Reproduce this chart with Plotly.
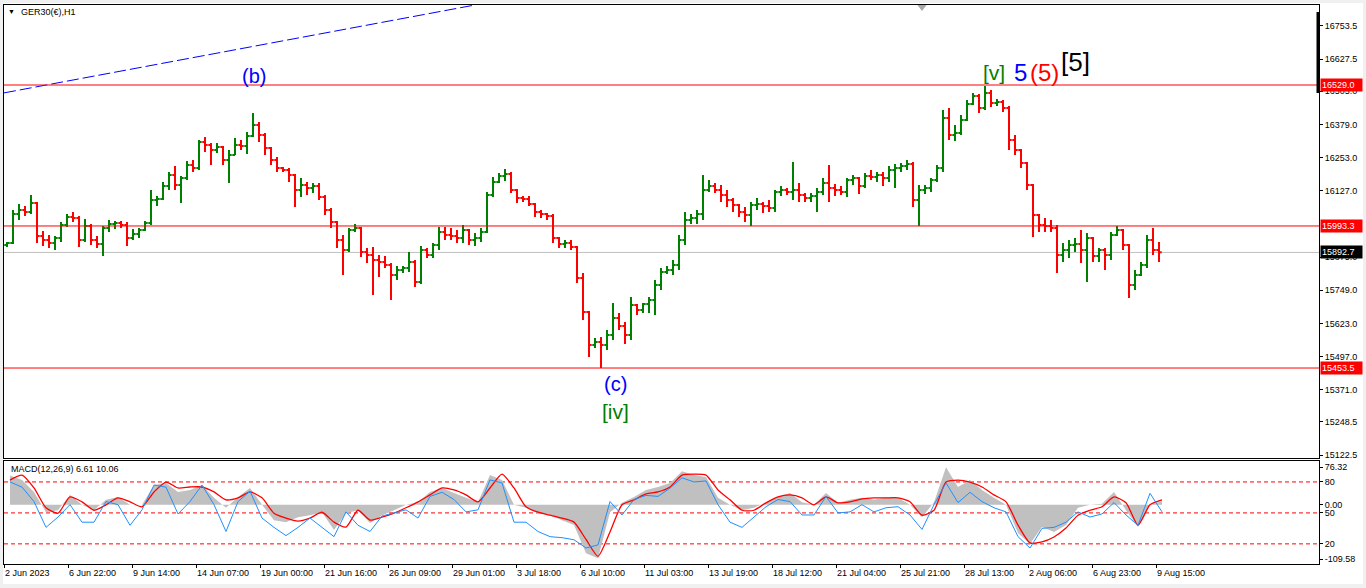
#!/usr/bin/env python3
"""GER30 H1 chart with Elliott wave labels and a MACD window, MT4 style."""

import plotly.graph_objects as go

SYMBOL = "GER30(€),H1"
MACD_TITLE = "MACD(12,26,9) 6.61 10.06"

# Price bars, grouped 6 hours per bar, 2 Jun - 9 Aug 2023.
first_open = 15921
bar_high = [
    15932, 16054, 16077, 16069, 16111, 16084, 15974, 15959, 15955, 16008,
    16039, 16046, 16031, 16020, 16001, 15955, 15993, 16016, 16012, 16012,
    16008, 15982, 15986, 16012, 16130, 16107, 16160, 16198, 16221, 16183,
    16240, 16244, 16320, 16331, 16309, 16309, 16297, 16282, 16328, 16320,
    16350, 16423, 16388, 16347, 16293, 16255, 16217, 16214, 16191, 16176,
    16160, 16157, 16157, 16111, 16062, 16012, 15959, 15986, 16001, 15989,
    15910, 15913, 15883, 15879, 15853, 15841, 15841, 15894, 15864, 15917,
    15910, 15929, 15989, 15989, 15986, 15978, 15997, 15982, 15967, 15986,
    16122, 16179, 16195, 16210, 16198, 16134, 16107, 16107, 16081, 16054,
    16043, 16039, 15951, 15940, 15940, 15917, 15815, 15670, 15568, 15571,
    15598, 15701, 15663, 15628, 15723, 15697, 15701, 15723, 15788, 15834,
    15841, 15864, 15959, 16046, 16039, 16054, 16187, 16168, 16157, 16149,
    16130, 16100, 16077, 16065, 16084, 16100, 16084, 16092, 16130, 16145,
    16138, 16236, 16157, 16119, 16119, 16138, 16176, 16225, 16153, 16145,
    16176, 16187, 16179, 16195, 16206, 16198, 16198, 16221, 16229, 16233,
    16244, 16236, 16149, 16149, 16176, 16225, 16434, 16442, 16377, 16415,
    16472, 16499, 16495, 16525, 16510, 16476, 16472, 16449, 16339, 16286,
    16236, 16153, 16039, 16024, 16016, 15997, 15929, 15940, 15948, 15978,
    15967, 15951, 15910, 15910, 15970, 15993, 15982, 15925, 15826, 15856,
    15959, 15986, 15932,
]
bar_low = [
    15913, 15925, 16016, 16031, 16039, 15929, 15917, 15910, 15902, 15932,
    15989, 16008, 15913, 15932, 15921, 15910, 15879, 15970, 15982, 15986,
    15917, 15940, 15948, 15974, 15997, 16069, 16092, 16130, 16130, 16081,
    16168, 16198, 16206, 16274, 16225, 16271, 16225, 16157, 16263, 16282,
    16267, 16331, 16312, 16263, 16225, 16198, 16198, 16160, 16065, 16103,
    16111, 16119, 16092, 16035, 15986, 15910, 15807, 15894, 15970, 15875,
    15853, 15731, 15799, 15834, 15712, 15788, 15815, 15818, 15761, 15773,
    15872, 15872, 15902, 15940, 15940, 15929, 15929, 15921, 15917, 15932,
    15967, 16103, 16157, 16164, 16119, 16081, 16084, 16069, 16027, 16024,
    16016, 15929, 15910, 15910, 15902, 15777, 15636, 15495, 15530, 15454,
    15522, 15560, 15598, 15545, 15560, 15655, 15663, 15663, 15655, 15750,
    15811, 15807, 15826, 15921, 16001, 16001, 16016, 16122, 16119, 16084,
    16065, 16046, 16027, 16008, 15993, 16054, 16043, 16046, 16046, 16107,
    16111, 16092, 16084, 16084, 16084, 16046, 16111, 16084, 16107, 16111,
    16103, 16149, 16115, 16138, 16168, 16160, 16145, 16160, 16138, 16198,
    16206, 16065, 15993, 16115, 16122, 16160, 16198, 16320, 16316, 16339,
    16392, 16453, 16423, 16434, 16445, 16449, 16426, 16282, 16263, 16214,
    16130, 15951, 15970, 15970, 15970, 15815, 15856, 15872, 15894, 15853,
    15780, 15856, 15856, 15826, 15864, 15955, 15902, 15720, 15750, 15803,
    15834, 15883, 15856,
]
bar_close = [
    15929, 16039, 16054, 16046, 16081, 15955, 15940, 15929, 15948, 15997,
    16027, 16024, 15940, 15993, 15940, 15925, 15986, 16001, 16005, 15997,
    15948, 15963, 15978, 16005, 16092, 16096, 16145, 16187, 16149, 16176,
    16225, 16214, 16312, 16301, 16282, 16293, 16244, 16263, 16301, 16297,
    16335, 16377, 16339, 16290, 16244, 16214, 16206, 16187, 16130, 16149,
    16138, 16145, 16103, 16054, 16008, 15940, 15902, 15978, 15986, 15894,
    15883, 15864, 15856, 15845, 15807, 15826, 15834, 15856, 15780, 15902,
    15883, 15921, 15970, 15959, 15955, 15948, 15978, 15940, 15948, 15970,
    16111, 16160, 16183, 16191, 16130, 16100, 16096, 16077, 16046, 16039,
    16031, 15948, 15925, 15929, 15913, 15796, 15666, 15541, 15552, 15541,
    15579, 15644, 15613, 15579, 15693, 15674, 15697, 15712, 15769, 15818,
    15826, 15845, 15940, 16016, 16024, 16039, 16130, 16145, 16130, 16111,
    16092, 16073, 16046, 16035, 16073, 16077, 16069, 16062, 16122, 16130,
    16122, 16130, 16111, 16100, 16107, 16122, 16157, 16138, 16130, 16122,
    16168, 16176, 16145, 16183, 16179, 16187, 16176, 16206, 16214, 16221,
    16229, 16092, 16130, 16138, 16168, 16214, 16404, 16339, 16347, 16396,
    16457, 16487, 16442, 16499, 16461, 16464, 16442, 16320, 16282, 16233,
    16149, 16035, 15997, 15993, 15986, 15883, 15902, 15921, 15925, 15902,
    15948, 15879, 15902, 15883, 15959, 15978, 15921, 15769, 15807, 15845,
    15940, 15902, 15893,
]

# MACD window, one reading every 12 hours.
macd_main = [
    59, 50, 26, -15, -11, 20, 0, -11, 10, 16, 0, 0, 40, 44, 26, 30, 40, 14,
    -6, 16, 34, 0, -31, -35, -25, -21, -15, -51, -17, -11, -37, -21, -11, 0,
    5, 26, 34, 24, 14, 5, 60, 50, 0, -6, -17, -21, -31, -41, -98, -108, -15,
    4, 16, 30, 36, 44, 68, 60, 56, 14, 0, -11, -6, 5, 16, 24, 5, 0, 24, 4,
    10, 14, 10, 15, 14, 0, -25, 5, 76, 36, 50, 30, 14, 0, -57, -79, -45,
    -55, -41, -6, 0, 2, 26, -11, -45, 0, 7,
]
macd_signal = [
    50, 60, 34, -6, -17, 16, 6, -11, 0, 14, 6, -4, 26, 46, 34, 36, 36, 26,
    10, 14, 26, 14, -17, -27, -33, -27, -15, -35, -45, -11, -31, -25, -17,
    -6, 6, 20, 34, 30, 20, 6, 34, 62, 34, -4, -15, -21, -27, -35, -70, -104,
    -55, 0, 10, 22, 26, 36, 60, 62, 60, 30, 10, -11, -11, 4, 16, 20, 14, 0,
    16, 4, 6, 12, 14, 14, 14, 6, -21, -11, 46, 50, 46, 36, 20, 6, -41, -77,
    -75, -65, -47, -21, -11, -4, 16, 4, -41, 0, 10,
]
# blue oscillator drawn on the 0-100 scale of the same window
osc_line = [
    80, 75, 61, 36, 46, 58, 41, 41, 61, 58, 38, 53, 77, 75, 49, 61, 77, 58,
    32, 61, 71, 45, 36, 28, 36, 45, 36, 27, 51, 38, 32, 47, 50, 53, 45, 66,
    70, 63, 51, 53, 82, 79, 41, 41, 32, 27, 26, 24, 16, 19, 61, 48, 63, 67,
    66, 74, 84, 80, 81, 58, 41, 36, 46, 56, 63, 61, 48, 48, 66, 50, 51, 58,
    51, 55, 56, 48, 34, 58, 79, 60, 70, 61, 55, 51, 27, 16, 35, 36, 41, 51,
    46, 49, 60, 48, 38, 69, 51,
]
osc_levels = [80, 50, 20]

# Trendline anchors (bar hour, price) and horizontal levels.
trend_hours = [0, 471]
trend_price = [16499, 16833]
red_levels = [16529.0, 15993.3, 15453.5]
last_price = 15892.7

# 16001.0 sits fully under the 15993.3 tag, so it is left out
price_ticks = [16753.5, 16627.5, 16505.0, 16379.0, 16253.0, 16127.0,
               15875.0, 15749.0, 15623.0, 15497.0, 15371.0, 15248.5, 15122.5]
macd_ticks = [76.32, 0.0, -109.58]
time_labels = [
    "2 Jun 2023", "6 Jun 22:00", "9 Jun 14:00", "14 Jun 07:00",
    "19 Jun 00:00", "21 Jun 16:00", "26 Jun 09:00", "29 Jun 01:00",
    "3 Jul 18:00", "6 Jul 10:00", "11 Jul 03:00", "13 Jul 19:00",
    "18 Jul 12:00", "21 Jul 04:00", "25 Jul 21:00", "28 Jul 13:00",
    "2 Aug 06:00", "6 Aug 23:00", "9 Aug 15:00",
]

FONT = "Liberation Sans"
W, H = 1366, 588
ML, MR, MT, MB = 4, 47, 5, 24
PLOT_W = W - ML - MR   # 1315 px, one px per H1 bar
PLOT_H = H - MT - MB


def px_x(p):
    """Screen x pixel -> paper x."""
    return (p - ML) / PLOT_W


def px_y(q):
    """Screen y pixel -> paper y."""
    return (H - MB - q) / PLOT_H


bar_x = [6 * i + 3 for i in range(len(bar_close))]
bar_open = [first_open] + bar_close[:-1]
macd_x = [12 * i + 6 for i in range(len(macd_main))]

fig = go.Figure()

# MT4 style bar chart: high-low stroke with open/close ticks
fig.add_trace(go.Ohlc(
    x=bar_x, open=bar_open, high=bar_high, low=bar_low, close=bar_close,
    increasing=dict(line=dict(color="#008000", width=2)),
    decreasing=dict(line=dict(color="#ff0000", width=2)),
    tickwidth=0.45, xaxis="x", yaxis="y", hoverinfo="skip",
))
fig.add_trace(go.Scatter(
    x=trend_hours, y=trend_price, mode="lines",
    line=dict(color="#0000ff", width=1, dash="12px,4px"),
    xaxis="x", yaxis="y",
))
# MACD histogram drawn as a solid grey area, as MT4 does at this zoom
fig.add_trace(go.Scatter(
    x=macd_x, y=macd_main, mode="none", fill="tozeroy",
    fillcolor="#c0c0c0", xaxis="x2", yaxis="y2",
))
fig.add_trace(go.Scatter(
    x=macd_x, y=macd_signal, mode="lines",
    line=dict(color="#ff0000", width=1.3, shape="spline", smoothing=0.6),
    xaxis="x2", yaxis="y2",
))
fig.add_trace(go.Scatter(
    x=macd_x, y=osc_line, mode="lines",
    line=dict(color="#1e90ff", width=1), xaxis="x2", yaxis="y3",
))
# chart-shift marker at the top border
fig.add_trace(go.Scatter(
    x=[918], y=[16825], mode="markers", cliponaxis=False,
    marker=dict(symbol="triangle-down", size=8, color="#a8a8a8"),
    xaxis="x", yaxis="y",
))

shapes = []
for lv in red_levels:
    shapes.append(dict(type="line", xref="paper", yref="y", x0=0, x1=1,
                       y0=lv, y1=lv, line=dict(color="#ff0000", width=1)))
shapes.append(dict(type="line", xref="paper", yref="y", x0=0, x1=1,
                   y0=last_price, y1=last_price, layer="below",
                   line=dict(color="#c0c0c0", width=1)))
for lv in osc_levels:
    shapes.append(dict(type="line", xref="paper", yref="y3", x0=0, x1=1,
                       y0=lv, y1=lv, layer="below",
                       line=dict(color="#ff0000", width=1, dash="4px,3px")))
# dark bar on the price scale
shapes.append(dict(type="rect", xref="paper", yref="paper",
                   x0=px_x(1316.5), x1=px_x(1320), y0=px_y(93), y1=px_y(12),
                   fillcolor="black", line=dict(width=0)))
# grey window frame
frame = "#f0f0f0"
for x0, x1, y0, y1 in [(0, 3, 0, H), (1363, W, 0, H), (0, W, 0, 3),
                       (0, W, 584, H)]:
    shapes.append(dict(type="rect", xref="paper", yref="paper",
                       x0=px_x(x0), x1=px_x(x1), y0=px_y(y1), y1=px_y(y0),
                       fillcolor=frame, line=dict(width=0)))

annotations = [
    dict(text="▼", x=px_x(6), y=px_y(12), xanchor="left", yanchor="middle",
         font=dict(size=7, color="black")),
    dict(text=SYMBOL, x=px_x(19), y=px_y(12), xanchor="left",
         yanchor="middle", font=dict(size=9, color="black")),
    dict(text=MACD_TITLE, x=px_x(9), y=px_y(469), xanchor="left",
         yanchor="middle", font=dict(size=9, color="black")),
]
for a in annotations:
    a.update(xref="paper", yref="paper", showarrow=False)

# Elliott wave counts
waves = [
    ("(b)", 250, 16563, "#0000ff", 20),
    ("(c)", 611, 15393, "#0000ff", 20),
    ("[iv]", 611, 15287, "#008000", 21),
    ("[v]", 990, 16578, "#008000", 21),
    ("5", 1016, 16578, "#0000ff", 24),
    ("(5)", 1040, 16578, "#ff0000", 24),
    ("[5]", 1071, 16616, "#000000", 26),
]
for text, hx, py, col, size in waves:
    annotations.append(dict(text=text, x=hx, y=py, xref="x", yref="y",
                            showarrow=False, xanchor="center",
                            yanchor="middle",
                            font=dict(size=size, color=col, family=FONT)))

# price tags on the right scale
for lv, bg in [(16529.0, "#ff0000"), (15993.3, "#ff0000"),
               (15453.5, "#ff0000"), (last_price, "#000000")]:
    annotations.append(dict(text=f"{lv:.1f}", x=1, y=lv, xref="paper",
                            yref="y", xanchor="left", yanchor="middle",
                            xshift=1, showarrow=False, bgcolor=bg,
                            borderpad=1, width=39, align="left",
                            font=dict(size=9, color="white", family=FONT)))

axis_common = dict(showgrid=False, zeroline=False, showline=True,
                   linecolor="black", linewidth=1, mirror=True,
                   tickcolor="black", automargin=False)

fig.update_layout(
    width=W, height=H, autosize=False,
    margin=dict(l=ML, r=MR, t=MT, b=MB, pad=0),
    paper_bgcolor="white", plot_bgcolor="white",
    font=dict(family=FONT, size=9, color="black"),
    showlegend=False,
    shapes=shapes, annotations=annotations,
    xaxis=dict(domain=[0, 1], range=[0, PLOT_W], anchor="y",
               showticklabels=False, ticks="",
               rangeslider=dict(visible=False), **axis_common),
    xaxis2=dict(domain=[0, 1], range=[0, PLOT_W], anchor="y2",
                matches="x",
                tickmode="array", tickvals=[64 * i for i in range(len(time_labels))],
                ticktext=time_labels, ticks="outside", ticklen=3,
                ticklabelposition="outside right", **axis_common),
    yaxis=dict(domain=[px_y(458), 1], range=[15111.6, 16833], anchor="x",
               side="right", tickmode="array", tickvals=price_ticks,
               ticktext=[f"{v:.1f}" for v in price_ticks],
               ticks="outside", ticklen=3, **axis_common),
    yaxis2=dict(domain=[0, px_y(461)], range=[-119.6, 88.5], anchor="x2",
                side="right", tickmode="array", tickvals=macd_ticks,
                ticktext=[f"{v:.2f}" for v in macd_ticks],
                ticks="outside", ticklen=3, **axis_common),
    yaxis3=dict(overlaying="y2", range=[0.5, 100.3], anchor="x2",
                side="right", tickmode="array", tickvals=osc_levels,
                ticks="outside", ticklen=3, showgrid=False, zeroline=False,
                showline=False, tickcolor="black", automargin=False),
)

fig.write_html("out.html", config={"displayModeBar": False},
               post_script="document.body.style.margin='0';")
